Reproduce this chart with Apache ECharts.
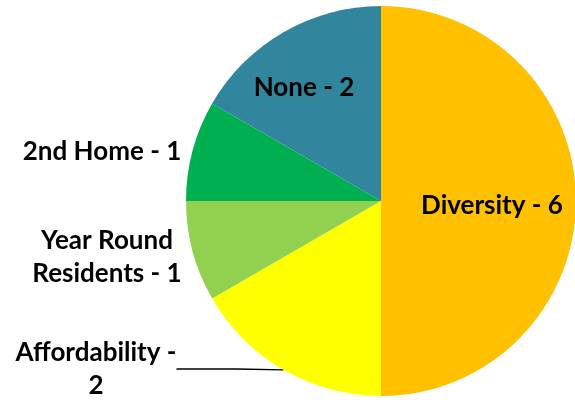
<!DOCTYPE html>
<html>
<head>
<meta charset="utf-8">
<script src="https://cdn.jsdelivr.net/npm/echarts@6/dist/echarts.min.js"></script>
<style>
  html, body { margin: 0; padding: 0; background: #fff; }
  #chart { width: 575px; height: 400px; }
</style>
</head>
<body>
<div id="chart"></div>
<script>
// slices, clockwise from 12 o'clock
const categories = ["Diversity", "Affordability", "Year Round Residents", "2nd Home", "None"];
const counts = [6, 2, 1, 1, 2];
const labelTexts = ["Diversity - 6", "Affordability -\n2", "Year Round\nResidents - 1", "2nd Home - 1", "None - 2"];
const colors = ["#FFC000", "#FFFF00", "#92D050", "#00B050", "#31859C"];

// where each label sits (label centre)
const labelSpots = [[492, 206], [96, 369], [107, 257], [102, 152], [304, 88]];
const insideLabels = [true, false, false, false, true];

const myChart = echarts.init(document.getElementById("chart"));
const option = {
  animation: false,
  series: [
    {
      type: "pie",
      center: [381, 201],
      radius: 195,
      startAngle: 90,
      clockwise: true,
      itemStyle: { borderWidth: 0 },
      label: {
        show: true,
        position: "outside",
        fontFamily: "Lato",
        fontWeight: "bold",
        fontSize: 26,
        lineHeight: 33,
        color: "#000",
        align: "center",
        overflow: "none",
        formatter: function (p) {
          return labelTexts[p.dataIndex];
        },
      },
      labelLine: { show: false, lineStyle: { color: "#000", width: 1.5 } },
      labelLayout: function (p) {
        const s = labelSpots[p.dataIndex];
        return { x: s[0], y: s[1], align: "center", verticalAlign: "middle", hideOverlap: false };
      },
      data: categories.map(function (c, i) {
        const d = { name: c, value: counts[i], itemStyle: { color: colors[i] } };
        if (insideLabels[i]) {
          d.label = { position: "inside" };
        }
        if (i === 1) {
          d.labelLine = { show: true, length: 5, length2: 60 };
        }
        return d;
      }),
    },
  ],
};
myChart.setOption(option);
</script>
</body>
</html>
